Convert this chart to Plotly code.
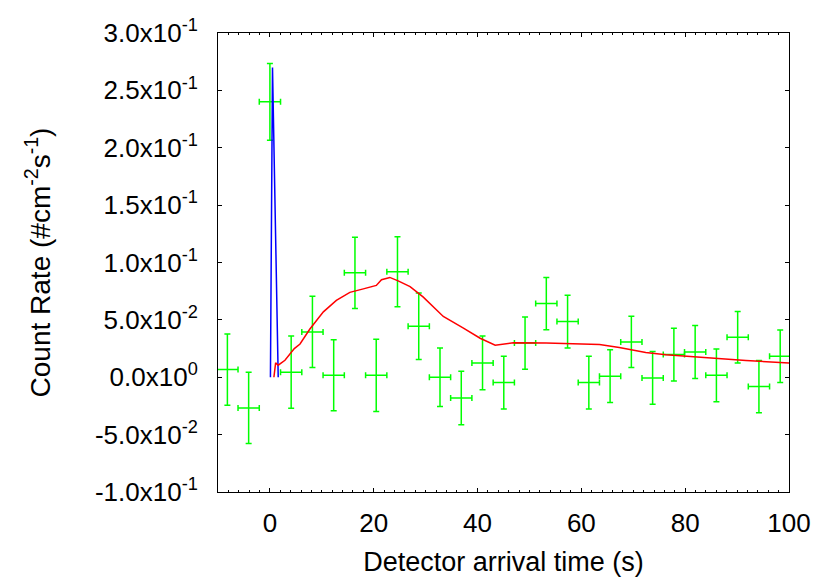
import plotly.graph_objects as go

# binned count rate (4.096 s bins)
bin_x = [-8.192, -4.096, 0.0, 4.096, 8.192, 12.288, 16.384, 20.48, 24.576,
         28.672, 32.768, 36.864, 40.96, 45.056, 49.152, 53.248, 57.344,
         61.44, 65.536, 69.632, 73.728, 77.824, 81.92, 86.016, 90.112,
         94.208, 98.304]
bin_y = [0.0067, -0.0267, 0.240, 0.0044, 0.0395, 0.0017, 0.091, 0.0017,
         0.092, 0.0444, 0.0, -0.018, 0.0125, -0.0046, 0.0298, 0.0642,
         0.0485, -0.0046, 0.0009, 0.0308, -0.0006, 0.0198, 0.022, 0.0017,
         0.0349, -0.0081, 0.0183]
bin_err = [0.031, 0.031, 0.0335, 0.0315, 0.031, 0.031, 0.031, 0.0315,
           0.0305, 0.029, 0.0254, 0.0233, 0.0235, 0.023, 0.0228, 0.0227,
           0.023, 0.023, 0.023, 0.0224, 0.023, 0.023, 0.023, 0.023,
           0.0225, 0.0228, 0.0229]
bin_half_width = 2.048

# prompt spike
spike_x = [0.1, 0.5, 1.6]
spike_y = [0.0, 0.27, 0.0]

# extended emission model
model_x = [0.77, 1.1, 1.6, 2.9, 4.7, 5.8, 7.7, 10.3, 12.8, 15.4, 18.0, 20.5,
           21.5, 23.1, 24.7, 27.0, 29.5, 33.4, 37.2, 40.5, 43.4, 46.9, 53.2,
           58.0, 63.5, 67.3, 72.4, 76.3, 85.3, 91.7, 100.0]
model_y = [0.0, 0.0125, 0.0105, 0.0148, 0.025, 0.029, 0.042, 0.057, 0.067,
           0.074, 0.077, 0.080, 0.085, 0.087, 0.084, 0.079, 0.070, 0.053,
           0.043, 0.034, 0.028, 0.030, 0.0298, 0.0295, 0.0285, 0.026, 0.0215,
           0.0195, 0.0165, 0.0145, 0.0125]

y_ticks = [-0.1, -0.05, 0.0, 0.05, 0.1, 0.15, 0.2, 0.25, 0.3]
y_labels = ["-1.0x10<sup>-1</sup>", "-5.0x10<sup>-2</sup>", "0.0x10<sup>0</sup>",
            "5.0x10<sup>-2</sup>", "1.0x10<sup>-1</sup>", "1.5x10<sup>-1</sup>",
            "2.0x10<sup>-1</sup>", "2.5x10<sup>-1</sup>", "3.0x10<sup>-1</sup>"]

fig = go.Figure()

fig.add_trace(
    go.Scatter(
        x=bin_x,
        y=bin_y,
        mode="markers",
        marker=dict(size=1, color="rgba(0,0,0,0)"),
        error_y=dict(type="data", array=bin_err, color="#00ff00",
                     thickness=1.5, width=3),
        error_x=dict(type="constant", value=bin_half_width, color="#00ff00",
                     thickness=1.5, width=3),
        showlegend=False,
    )
)

fig.add_trace(
    go.Scatter(
        x=spike_x,
        y=spike_y,
        mode="lines",
        line=dict(color="#0000ff", width=1.5),
        showlegend=False,
    )
)

fig.add_trace(
    go.Scatter(
        x=model_x,
        y=model_y,
        mode="lines",
        line=dict(color="#ff0000", width=1.5),
        showlegend=False,
    )
)

# page body has an 8px margin, so the figure is a bit smaller than the window
fig.update_layout(
    width=822,
    height=573,
    plot_bgcolor="white",
    paper_bgcolor="white",
    font=dict(family="Liberation Sans, Arial", size=26, color="black"),
    margin=dict(l=210, r=41, t=25, b=89),
)

fig.update_xaxes(
    range=[-10, 100],
    tick0=0,
    dtick=20,
    ticks="inside",
    ticklen=4,
    tickcolor="black",
    minor=dict(ticks="inside", dtick=2, ticklen=2, tickcolor="black"),
    showgrid=False,
    zeroline=False,
    showline=True,
    linecolor="black",
    linewidth=1,
    mirror="ticks",
    automargin=False,
    ticklabelstandoff=8,
    title=dict(text="Detector arrival time (s)", standoff=14,
               font=dict(size=27)),
    tickfont=dict(size=26),
)

fig.update_yaxes(
    range=[-0.1, 0.3],
    tickvals=y_ticks,
    ticktext=y_labels,
    ticks="inside",
    ticklen=4,
    tickcolor="black",
    showgrid=False,
    zeroline=False,
    showline=True,
    linecolor="black",
    linewidth=1,
    mirror="ticks",
    automargin=False,
    ticklabelstandoff=14,
    title=dict(text="Count Rate (#cm<sup>-2</sup>s<sup>-1</sup>)", standoff=36,
               font=dict(size=28)),
    tickfont=dict(size=26),
)

fig.write_html("out.html")
